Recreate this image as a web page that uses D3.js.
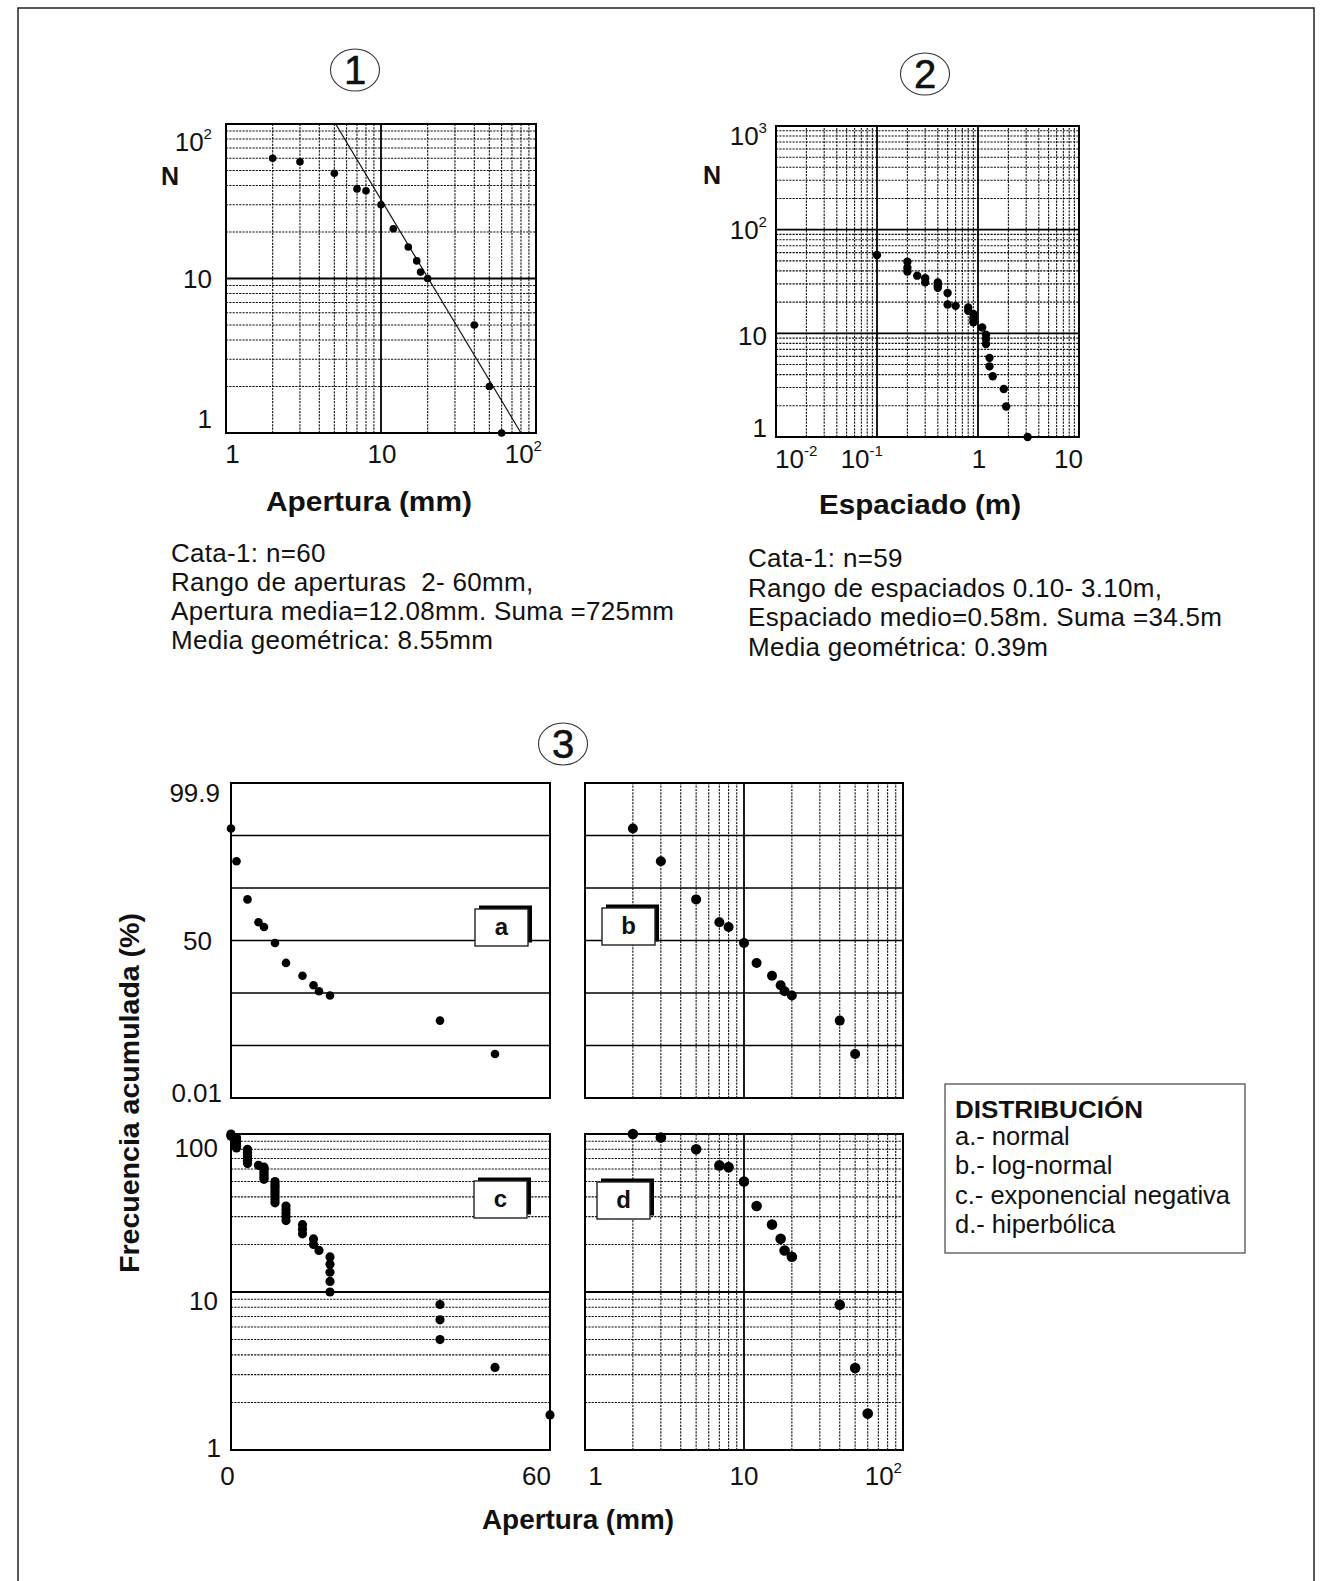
<!DOCTYPE html>
<html><head><meta charset="utf-8">
<script src="https://cdn.jsdelivr.net/npm/d3@7"></script>
<style>
body{margin:0;background:#fff}
svg{display:block}
text{font-family:"Liberation Sans",Arial,Helvetica,sans-serif;fill:#111;white-space:pre}
</style>
</head><body>
<svg id="c" width="1321" height="1581"></svg>
<script>
// ---------------- DATA ----------------
// Aperture classes (mm), number of fractures per class and cumulative N (>= x)
const apertureClasses = [2, 3, 5, 7, 8, 10, 12, 15, 17, 18, 20, 40, 50, 60];
const apertureCounts  = [3, 9, 10, 1, 7, 9, 5, 3, 2, 1, 5, 3, 1, 1];
const apertureN       = [60, 57, 48, 38, 37, 30, 21, 16, 13, 11, 10, 5, 2, 1];
const nTotal = 60;
// fitted power-law line of panel 1 (end points)
const fitLineX = [5.1, 80];
const fitLineN = [100, 1];
// Panel 2: spacing (m) vs cumulative N
const spacing  = [0.1, 0.2, 0.2, 0.2, 0.25, 0.3, 0.3, 0.4, 0.4, 0.4, 0.5, 0.5, 0.6, 0.8, 0.8, 0.9, 0.9, 0.9, 1.1, 1.2, 1.2, 1.2, 1.3, 1.3, 1.4, 1.8, 1.9, 3.1];
const spacingN = [57, 49, 43, 39.5, 36, 34, 31, 31, 29, 27.5, 24.5, 19, 18.4, 17.8, 16.5, 15.4, 14, 12.8, 11.4, 9.7, 8.8, 7.9, 5.8, 4.8, 3.85, 2.9, 1.97, 1];
// Panels a & b: cumulative frequency (%) on probability paper (first 13 classes)
const probPct = [98.6, 94, 79, 64, 60.5, 48, 33, 24.5, 19, 16, 14, 5.8, 1.3];
// Panel d: cumulative frequency (%) per class
const cumPct = [100, 95, 80, 63.3, 61.7, 50, 35, 26.7, 21.7, 18.3, 16.7, 8.3, 3.3, 1.7];

// tick values / labels ("^" = superscript)
const p1XTicks = [1, 10, 100],        p1XLabels = ["1", "10", "10^2"];
const p1YTicks = [100, 10, 1],        p1YLabels = ["10^2", "10", "1"];
const p2XTicks = [0.01, 0.1, 1, 10],  p2XLabels = ["10^-2", "10^-1", "1", "10"];
const p2YTicks = [1000, 100, 10, 1],  p2YLabels = ["10^3", "10^2", "10", "1"];
const p3ProbTicks = [99.9, 50, 0.1],  p3ProbLabels = ["99.9", "50", "0.01"];
const p3LogYTicks = [100, 10, 1],     p3LogYLabels = ["100", "10", "1"];
const p3LinXTicks = [2, 60],          p3LinXLabels = ["0", "60"];
const p3LogXTicks = [1, 10, 100],     p3LogXLabels = ["1", "10", "10^2"];

const panelLetters = ["a", "b", "c", "d"];
const legendTitle = "DISTRIBUCIÓN";
const legendItems = ["a.- normal", "b.- log-normal", "c.- exponencial negativa", "d.- hiperbólica"];
const statsApertura  = ["Cata-1: n=60", "Rango de aperturas  2- 60mm,", "Apertura media=12.08mm. Suma =725mm", "Media geométrica: 8.55mm"];
const statsEspaciado = ["Cata-1: n=59", "Rango de espaciados 0.10- 3.10m,", "Espaciado medio=0.58m. Suma =34.5m", "Media geométrica: 0.39m"];

// ---------------- HELPERS ----------------
const svg = d3.select("#c");
svg.append("rect").attr("width", 1321).attr("height", 1581).attr("fill", "#fff");
svg.append("path").attr("d", "M18,1581V8H1314V1581").attr("fill", "none")
   .attr("stroke", "#222").attr("stroke-width", 1.5);

function probit(p){
  const a=[-3.969683028665376e+01,2.209460984245205e+02,-2.759285104469687e+02,1.383577518672690e+02,-3.066479806614716e+01,2.506628277459239e+00];
  const b=[-5.447609879822406e+01,1.615858368580409e+02,-1.556989798598866e+02,6.680131188771972e+01,-1.328068155288572e+01];
  const c=[-7.784894002430293e-03,-3.223964580411365e-01,-2.400758277161838e+00,-2.549732539343734e+00,4.374664141464968e+00,2.938163982698783e+00];
  const d=[7.784695709041462e-03,3.224671290700398e-01,2.445134137142996e+00,3.754408661907416e+00];
  const pl=0.02425, ph=1-pl; let q,r;
  if(p<pl){q=Math.sqrt(-2*Math.log(p));return (((((c[0]*q+c[1])*q+c[2])*q+c[3])*q+c[4])*q+c[5])/((((d[0]*q+d[1])*q+d[2])*q+d[3])*q+1);}
  if(p<=ph){q=p-0.5;r=q*q;return (((((a[0]*r+a[1])*r+a[2])*r+a[3])*r+a[4])*r+a[5])*q/(((((b[0]*r+b[1])*r+b[2])*r+b[3])*r+b[4])*r+1);}
  q=Math.sqrt(-2*Math.log(1-p));return -(((((c[0]*q+c[1])*q+c[2])*q+c[3])*q+c[4])*q+c[5])/((((d[0]*q+d[1])*q+d[2])*q+d[3])*q+1);
}

function logVals(domain){
  const lo=Math.round(Math.log10(domain[0])), hi=Math.round(Math.log10(domain[1]));
  const major=[], minor=[];
  for(let e=lo;e<hi;e++){
    if(e>lo) major.push(Math.pow(10,e));
    for(let m=2;m<=9;m++) minor.push(m*Math.pow(10,e));
  }
  return {major, minor};
}
const minorStyle = s => s.attr("stroke","#111").attr("stroke-width",1.1).attr("stroke-dasharray","2.2,1.1");
const majorStyle = s => s.attr("stroke","#000").attr("stroke-width",1.8);

function vLines(g, xs, ys, vals, style){
  const [y0,y1]=ys.range();
  g.selectAll(null).data(vals).enter().append("line")
    .attr("x1",d=>xs(d)).attr("x2",d=>xs(d)).attr("y1",y0).attr("y2",y1).call(style);
}
function hLinesPx(g, xs, ypx, style){
  const [x0,x1]=xs.range();
  g.selectAll(null).data(ypx).enter().append("line")
    .attr("x1",x0).attr("x2",x1).attr("y1",d=>d).attr("y2",d=>d).call(style);
}
function frame(g, xs, ys){
  const [x0,x1]=xs.range(), [y0,y1]=ys.range();
  g.append("rect").attr("x",x0).attr("y",Math.min(y0,y1)).attr("width",x1-x0)
   .attr("height",Math.abs(y0-y1)).attr("fill","none").attr("stroke","#000").attr("stroke-width",2);
}
function dots(g, pts, r){
  g.selectAll(null).data(pts).enter().append("circle")
   .attr("cx",d=>d[0]).attr("cy",d=>d[1]).attr("r",r).attr("fill","#000");
}
function addLabel(g,x,y,str,o={}){
  const size=o.size||26;
  const t=g.append("text").attr("x",x).attr("y",y).attr("text-anchor",o.anchor||"middle")
    .attr("font-size",size).attr("font-weight",o.weight||"normal");
  const parts=str.split("^");
  t.append("tspan").text(parts[0]);
  if(parts.length>1) t.append("tspan").attr("font-size",size*0.58).attr("dy",-size*0.48).text(parts[1]);
  return t;
}
function circledNumber(cx, cy, txt){
  svg.append("ellipse").attr("cx",cx).attr("cy",cy).attr("rx",24.5).attr("ry",21)
     .attr("fill","none").attr("stroke","#333").attr("stroke-width",1.1);
  svg.append("text").attr("x",cx).attr("y",cy+14).attr("text-anchor","middle")
     .attr("font-size",40).attr("stroke","#111").attr("stroke-width",0.6).text(txt);
}

// ---------------- PANEL 1 ----------------
{
  const g=svg.append("g");
  const xs=d3.scaleLog().domain([1,100]).range([226,536]);
  const ys=d3.scaleLog().domain([1,100]).range([433,124]);
  const lx=logVals(xs.domain()), ly=logVals(ys.domain());
  vLines(g,xs,ys,lx.minor,minorStyle);
  hLinesPx(g,xs,ly.minor.map(ys),minorStyle);
  vLines(g,xs,ys,lx.major,majorStyle);
  hLinesPx(g,xs,ly.major.map(ys),majorStyle);
  frame(g,xs,ys);
  g.append("path").datum(fitLineX.map((x,i)=>[x,fitLineN[i]]))
    .attr("d",d3.line().x(d=>xs(d[0])).y(d=>ys(d[1])))
    .attr("fill","none").attr("stroke","#111").attr("stroke-width",1.2);
  dots(g, apertureClasses.map((x,i)=>[xs(x),ys(apertureN[i])]), 3.8);
  const yDy=[27,9.5,-5];
  p1YTicks.forEach((v,i)=>addLabel(g,212,ys(v)+yDy[i],p1YLabels[i],{anchor:"end"}));
  const xDx=[6.5,1,6], xAn=["middle","middle","end"];
  p1XTicks.forEach((v,i)=>addLabel(g,xs(v)+xDx[i],463,p1XLabels[i],{anchor:xAn[i]}));
  addLabel(g,161,185,"N",{anchor:"start",weight:"bold",size:25});
  g.append("text").attr("x",369).attr("y",511).attr("text-anchor","middle").attr("font-size",28)
    .attr("font-weight","bold").attr("textLength",206).attr("lengthAdjust","spacingAndGlyphs").text("Apertura (mm)");
  statsApertura.forEach((s,i)=>g.append("text").attr("x",171).attr("y",562+i*29)
    .attr("font-size",26).attr("letter-spacing",0.3).text(s));
}

// ---------------- PANEL 2 ----------------
{
  const g=svg.append("g");
  const xs=d3.scaleLog().domain([0.01,10]).range([776,1079]);
  const ys=d3.scaleLog().domain([1,1000]).range([437,126]);
  const lx=logVals(xs.domain()), ly=logVals(ys.domain());
  vLines(g,xs,ys,lx.minor,minorStyle);
  hLinesPx(g,xs,ly.minor.map(ys),minorStyle);
  vLines(g,xs,ys,lx.major,majorStyle);
  hLinesPx(g,xs,ly.major.map(ys),majorStyle);
  frame(g,xs,ys);
  dots(g, spacing.map((x,i)=>[xs(x),ys(spacingN[i])]), 4.2);
  const yDy=[19,9.5,12,0];
  p2YTicks.forEach((v,i)=>addLabel(g,767,ys(v)+yDy[i],p2YLabels[i],{anchor:"end"}));
  const xDx=[-1,6,1,4], xAn=["start","end","middle","end"];
  p2XTicks.forEach((v,i)=>addLabel(g,xs(v)+xDx[i],468,p2XLabels[i],{anchor:xAn[i]}));
  addLabel(g,703,184,"N",{anchor:"start",weight:"bold",size:25});
  g.append("text").attr("x",920).attr("y",514).attr("text-anchor","middle").attr("font-size",28)
    .attr("font-weight","bold").attr("textLength",202).attr("lengthAdjust","spacingAndGlyphs").text("Espaciado (m)");
  statsEspaciado.forEach((s,i)=>g.append("text").attr("x",748).attr("y",567+i*29.5)
    .attr("font-size",26).attr("letter-spacing",0.3).text(s));
}

circledNumber(355,70,"1");
circledNumber(925,74,"2");
circledNumber(563,744,"3");

// ---------------- PANEL 3 ----------------
const zTop=probit(0.999), zBot=probit(0.001);
const band=d3.range(1,6).map(i=>zBot+i*(zTop-zBot)/6);
const xLin=d3.scaleLinear().domain([2,60]).range([231,550]);
const xLogB=d3.scaleLog().domain([1,100]).range([585,903]);
const yProb=d3.scaleLinear().domain([zBot,zTop]).range([1098,783]);
const yLogC=d3.scaleLog().domain([1,100]).range([1450,1134]);
const bandStyle = s => s.attr("stroke","#000").attr("stroke-width",1.6);

function letterBox(g,x,y,txt){
  g.append("rect").attr("x",x+4).attr("y",y-3.5).attr("width",53).attr("height",37).attr("fill","#000");
  g.append("rect").attr("x",x).attr("y",y).attr("width",53).attr("height",37)
   .attr("fill","#fff").attr("stroke","#222").attr("stroke-width",1.4);
  g.append("text").attr("x",x+26.5).attr("y",y+26).attr("text-anchor","middle")
   .attr("font-size",24).attr("font-weight","bold").text(txt);
}

// a
{
  const g=svg.append("g");
  hLinesPx(g,xLin,band.map(yProb),bandStyle);
  frame(g,xLin,yProb);
  dots(g, probPct.map((p,i)=>[xLin(apertureClasses[i]), yProb(probit(p/100))]), 4.3);
  const yDy=[18.7,9,3.7], lx=[220,212,222];
  p3ProbTicks.forEach((v,i)=>addLabel(g,lx[i],yProb(probit(v/100))+yDy[i],p3ProbLabels[i],{anchor:"end"}));
  letterBox(g,475,909,panelLetters[0]);
}
// b
{
  const g=svg.append("g");
  const lx=logVals(xLogB.domain());
  vLines(g,xLogB,yProb,lx.minor,minorStyle);
  vLines(g,xLogB,yProb,lx.major,majorStyle);
  hLinesPx(g,xLogB,band.map(yProb),bandStyle);
  frame(g,xLogB,yProb);
  dots(g, probPct.map((p,i)=>[xLogB(apertureClasses[i]), yProb(probit(p/100))]), 5);
  letterBox(g,602,908,panelLetters[1]);
}
// c
{
  const g=svg.append("g");
  const ly=logVals(yLogC.domain());
  hLinesPx(g,xLin,ly.minor.map(yLogC),minorStyle);
  hLinesPx(g,xLin,ly.major.map(yLogC),majorStyle);
  frame(g,xLin,yLogC);
  const pts=[];
  apertureClasses.forEach((x,i)=>{
    for(let k=0;k<apertureCounts[i];k++) pts.push([xLin(x), yLogC((apertureN[i]-k)/nTotal*100)]);
  });
  dots(g, pts, 4.6);
  const yDy=[22.7,17.7,7], lxp=[218,218,221];
  p3LogYTicks.forEach((v,i)=>addLabel(g,lxp[i],yLogC(v)+yDy[i],p3LogYLabels[i],{anchor:"end"}));
  const xDx=[-3.5,1], xAn=["middle","end"];
  p3LinXTicks.forEach((v,i)=>addLabel(g,xLin(v)+xDx[i],1485,p3LinXLabels[i],{anchor:xAn[i]}));
  letterBox(g,474,1181,panelLetters[2]);
}
// d
{
  const g=svg.append("g");
  const lx=logVals(xLogB.domain()), ly=logVals(yLogC.domain());
  const yD=yLogC.copy();
  const xD=xLogB.copy();
  vLines(g,xD,yD,lx.minor,minorStyle);
  hLinesPx(g,xD,ly.minor.map(yD),minorStyle);
  vLines(g,xD,yD,lx.major,majorStyle);
  hLinesPx(g,xD,ly.major.map(yD),majorStyle);
  frame(g,xD,yD);
  dots(g, cumPct.map((p,i)=>[xD(apertureClasses[i]), yD(p)]), 5.3);
  const xDx=[10.6,0,-1], xAn=["middle","middle","end"];
  p3LogXTicks.forEach((v,i)=>addLabel(g,xD(v)+xDx[i],1485,p3LogXLabels[i],{anchor:xAn[i]}));
  letterBox(g,597,1182,panelLetters[3]);
}
// shared axis titles
svg.append("text").attr("x",578).attr("y",1529).attr("text-anchor","middle").attr("font-size",28)
  .attr("font-weight","bold").attr("textLength",192).attr("lengthAdjust","spacingAndGlyphs").text("Apertura (mm)");
svg.append("text").attr("transform","translate(139,1093) rotate(-90)").attr("text-anchor","middle")
  .attr("font-size",28).attr("font-weight","bold").attr("textLength",360).attr("lengthAdjust","spacingAndGlyphs")
  .text("Frecuencia acumulada (%)");

// legend
{
  const g=svg.append("g");
  g.append("rect").attr("x",945).attr("y",1084).attr("width",300).attr("height",169)
   .attr("fill","#fff").attr("stroke","#444").attr("stroke-width",1.2);
  g.append("text").attr("x",955).attr("y",1118).attr("font-size",24.5).attr("font-weight","bold")
   .attr("textLength",188).attr("lengthAdjust","spacingAndGlyphs").text(legendTitle);
  legendItems.forEach((s,i)=>g.append("text").attr("x",955).attr("y",1145+i*29.4)
   .attr("font-size",25.5).text(s));
}
</script>
</body></html>
